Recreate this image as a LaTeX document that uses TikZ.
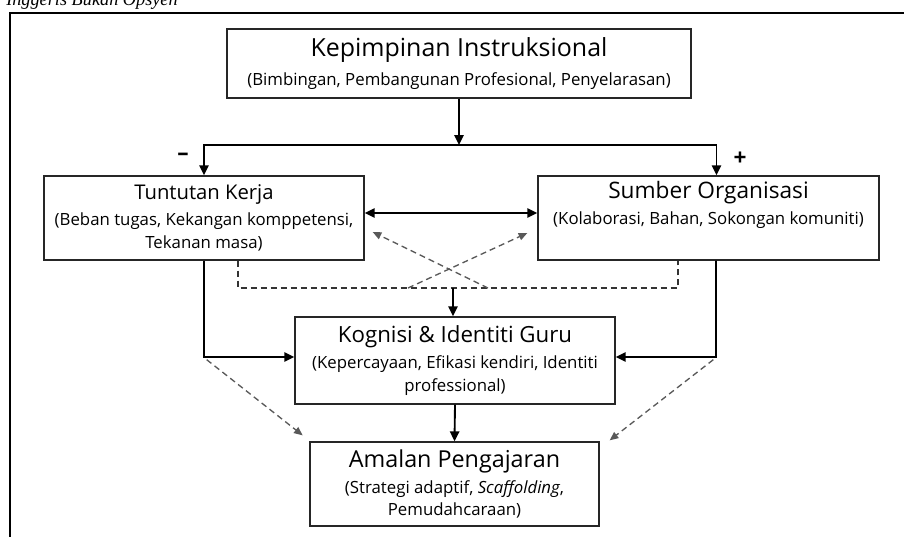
\documentclass[tikz,border=0pt]{standalone}
\usepackage{fontspec}
\setmainfont{Open Sans}
\newfontfamily\judulfont{Liberation Serif}
\usetikzlibrary{arrows.meta}
\newcommand{\tajuk}[2][17]{{\fontsize{#1}{#1}\selectfont #2}}

\begin{document}
\begin{tikzpicture}[x=0.75pt,y=-0.75pt,
    kotak/.style={draw=black!85, line width=1pt, align=center, inner sep=0pt,
        font=\fontsize{12.6}{17}\selectfont},
    panah/.style={line width=1.4pt, -{Triangle[length=7.5pt,width=7pt]}},
    putus/.style={black!80, line width=1pt, dash pattern=on 4.5pt off 3pt},
    kelabu/.style={black!65, line width=1pt, dash pattern=on 4.5pt off 3pt,
        -{Triangle[length=6.5pt,width=5.5pt]}}]
                \useasboundingbox (0,0) rectangle (904,536);
                \clip (0,0) rectangle (904,536);
                \node (judul) at (6,5) [anchor=base west, inner sep=0pt, font=\judulfont\itshape\fontsize{13.7}{16}\selectfont] {Inggeris Bukan Opsyen};
                \draw[line width=1.5pt] (10,540) -- (10,13) -- (910,13);
                % kotak utama
                \node (kep) at (459,63.5) [kotak, minimum width=348pt, minimum height=51.75pt]
                    {\tajuk[18.7]{Kepimpinan Instruksional}\\[5pt] (Bimbingan, Pembangunan Profesional, Penyelarasan)};
                \node (tuntutan) at (204,218) [kotak, minimum width=240pt, minimum height=63pt]
                    {\tajuk[15.2]{Tuntutan Kerja}\\[2.5pt] (Beban tugas, Kekangan komppetensi,\\ Tekanan masa)};
                \node (sumber) at (708.5,218) [kotak, minimum width=255.75pt, minimum height=63pt]
                    {\tajuk{Sumber Organisasi}\\[2.5pt] (Kolaborasi, Bahan, Sokongan komuniti)\\ \strut};
                \node (kognisi) at (455,360.5) [kotak, minimum width=240pt, minimum height=65.25pt]
                    {\tajuk[16.7]{Kognisi \& Identiti Guru}\\[2.5pt] (Kepercayaan, Efikasi kendiri, Identiti\\ professional)};
                \node (amalan) at (454.5,484) [kotak, minimum width=216.75pt, minimum height=63pt]
                    {\tajuk[17.5]{Amalan Pengajaran}\\[2.5pt] (Strategi adaptif, \textit{Scaffolding},\\ Pemudahcaraan)};
                % titik sambungan
                \coordinate (cabang) at (459,145);
                \coordinate (simpang) at (453,288);
                \coordinate (silang1) at (408,288);
                \coordinate (silang2) at (488,288);
                \coordinate (sudutkiri) at (204,357);
                \coordinate (sudutkanan) at (716,357);
                % anak panah
                \draw[panah] (kep.south) -- (cabang);
                \draw[panah] (cabang) -| (tuntutan.north);
                \draw[panah] (cabang) -| ([xshift=6pt]sumber.north);
                \node (tolak) at (183,157) [font=\bfseries\fontsize{17}{18}\selectfont] {–};
                \node (tambah) at (740,159) [font=\bfseries\fontsize{17}{18}\selectfont] {+};
                \draw[line width=1.4pt, {Triangle[length=7.5pt,width=7pt]}-{Triangle[length=7.5pt,width=7pt]}]
                    ([yshift=3.75pt]tuntutan.east) -- ([yshift=3.75pt]sumber.west);
                \draw[putus] ([xshift=25.5pt]tuntutan.south) |- (simpang) -| ([xshift=-22.9pt]sumber.south);
                \draw[kelabu] (silang1) -- ([xshift=-7.5pt,yshift=-11.25pt]sumber.west);
                \draw[kelabu] (silang2) -- ([xshift=6pt,yshift=-10.5pt]tuntutan.east);
                \draw[panah] (simpang) -- (simpang |- kognisi.north);
                \draw[panah] (tuntutan.south) -- (sudutkiri) -- (sudutkiri -| kognisi.west);
                \draw[panah] ([xshift=5.6pt]sumber.south) -- (sudutkanan) -- (sudutkanan -| kognisi.east);
                \draw[panah] (kognisi.south) -- (amalan.north);
                \draw[kelabu] ([shift={(2pt,-2pt)}]sudutkiri) -- ([xshift=-5pt,yshift=4.5pt]amalan.north west);
                \draw[kelabu] ([shift={(-2pt,-2pt)}]sudutkanan) -- ([xshift=7.5pt,yshift=0.75pt]amalan.north east);
            \end{tikzpicture}
\end{document}
